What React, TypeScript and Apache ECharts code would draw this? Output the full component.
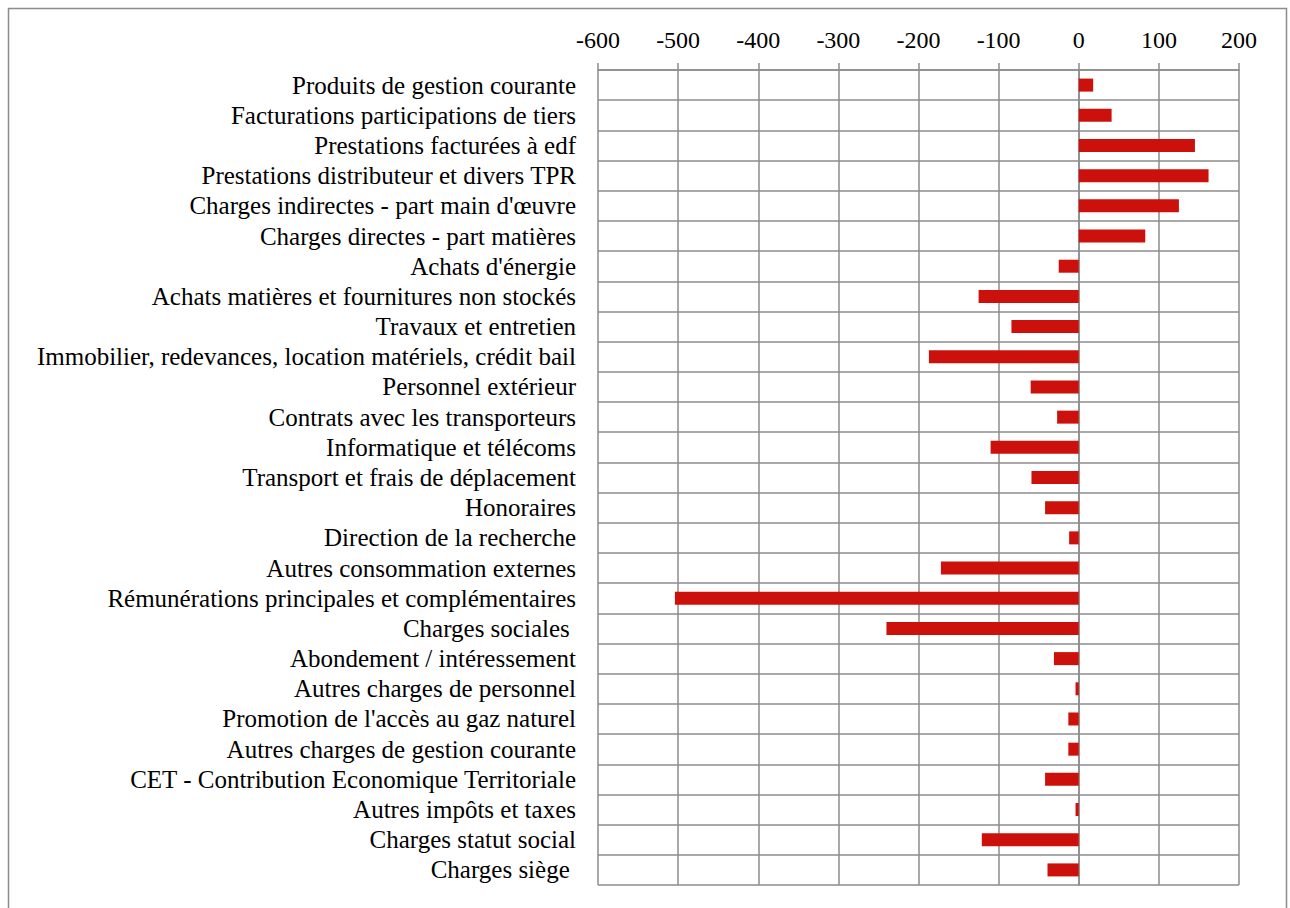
import React, { useEffect, useRef } from "react";
import * as echarts from "echarts";

const categories = [
  "Produits de gestion courante",
  "Facturations participations de tiers",
  "Prestations facturées à edf",
  "Prestations distributeur et divers TPR",
  "Charges indirectes - part main d'œuvre",
  "Charges directes - part matières",
  "Achats d'énergie",
  "Achats matières et fournitures non stockés",
  "Travaux et entretien",
  "Immobilier, redevances, location matériels, crédit bail",
  "Personnel extérieur",
  "Contrats avec les transporteurs",
  "Informatique et télécoms",
  "Transport et frais de déplacement",
  "Honoraires",
  "Direction de la recherche",
  "Autres consommation externes",
  "Rémunérations principales et complémentaires",
  "Charges sociales ",
  "Abondement / intéressement",
  "Autres charges de personnel",
  "Promotion de l'accès au gaz naturel",
  "Autres charges de gestion courante",
  "CET - Contribution Economique Territoriale",
  "Autres impôts et taxes",
  "Charges statut social",
  "Charges siège ",
];

const values = [
  18, 41, 145, 162, 125, 83, -25, -125, -84, -187, -60, -27, -110, -59, -42, -12,
  -172, -504, -240, -31, -4, -13, -13, -42, -4, -121, -39,
];

const xMin = -600;
const xMax = 200;
const xInterval = 100;

export default function App() {
  const ref = useRef<HTMLDivElement>(null);
  useEffect(() => {
    if (!ref.current) return;
    const chart = echarts.init(ref.current, undefined, { renderer: "svg" });
    const gridColor = "#8c8c8c";
    const font = "'Liberation Serif', 'DejaVu Serif', serif";
    chart.setOption({
      animation: false,
      backgroundColor: "#ffffff",
      graphic: [
        {
          type: "rect",
          shape: { x: 8.5, y: 8.5, width: 1278, height: 1000 },
          style: { fill: "none", stroke: "#8c8c8c", lineWidth: 1.5 },
          silent: true,
        },
      ],
      grid: { left: 598, right: 51, top: 70, bottom: 23, containLabel: false },
      xAxis: {
        type: "value",
        position: "top",
        min: xMin,
        max: xMax,
        interval: xInterval,
        axisLine: { show: true, lineStyle: { color: gridColor, width: 1.5 } },
        axisTick: { show: true, length: 7, lineStyle: { color: gridColor, width: 1.5 } },
        axisLabel: { color: "#000", fontFamily: font, fontSize: 24, margin: 18 },
        splitLine: { show: true, lineStyle: { color: gridColor, width: 1.5 } },
      },
      yAxis: {
        type: "category",
        inverse: true,
        data: categories,
        axisLine: { show: true, lineStyle: { color: gridColor, width: 1.5 } },
        axisTick: { show: false },
        axisLabel: { color: "#000", fontFamily: font, fontSize: 25, margin: 22, interval: 0 },
        splitLine: { show: true, interval: 0, lineStyle: { color: gridColor, width: 1.5 } },
      },
      series: [
        {
          type: "bar",
          data: values,
          barWidth: 13,
          itemStyle: { color: "#CC100B" },
        },
      ],
    });
    return () => chart.dispose();
  }, []);
  return (
    <div
      ref={ref}
      style={{ position: "fixed", left: 0, top: 0, width: 1290, height: 908 }}
    />
  );
}
